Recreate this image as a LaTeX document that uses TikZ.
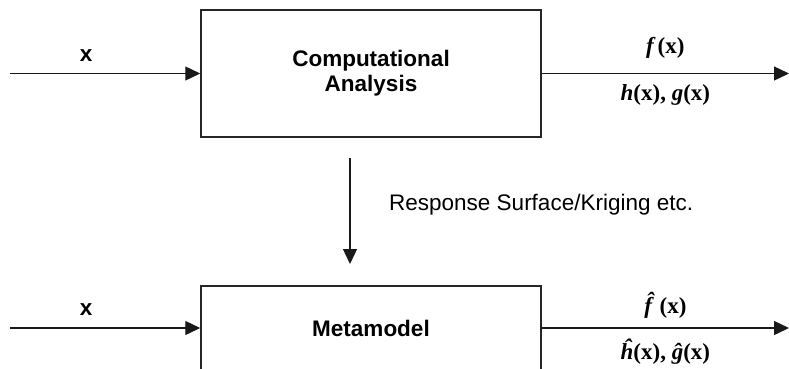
\documentclass[tikz,border=0pt]{standalone}
\usepackage{fontspec}
\setmainfont{Liberation Sans}
\newfontfamily\timesfont{Liberation Serif}
\usetikzlibrary{arrows.meta,positioning}

\begin{document}
\begin{tikzpicture}[x=1pt,y=-1pt,
		block/.style={draw=black!85, line width=1.5pt, minimum width=340pt, inner sep=0pt, align=center, font=\fontsize{22.5}{25}\selectfont\bfseries},
		flow/.style={line width=1.3pt, draw=black!90, -{Triangle[length=15pt,width=14pt]}},
		lbl/.style={inner sep=0pt, font=\fontsize{22.5}{26}\selectfont},
		mlbl/.style={inner sep=0pt, font=\fontsize{23}{26}\selectfont\timesfont\bfseries}]
	\clip (0,0) rectangle (789,368);
	% blocks
	\node (comp) [block, minimum height=127pt] at (371,73.5) {Computational\\Analysis};
	\node (meta) [block, minimum height=84pt] at (371,328) {Metamodel};
	% free ends of the connectors
	\coordinate (compin) at (10,73.5);
	\coordinate (compout) at (789,73.5);
	\coordinate (metain) at (10,328);
	\coordinate (metaout) at (789,328);
	\coordinate (fittop) at (350,158);
	\coordinate (fitbot) at (350,264);
	% top row
	\draw [flow] (compin) -- node [lbl, pos=0.4, yshift=18pt] {\textbf{x}} (comp);
	\draw [flow] (comp) -- node [mlbl, yshift=26pt] {{\itshape f}\,(x)} node [mlbl, yshift=-21pt] {{\itshape h}(x), {\itshape g}(x)} (compout);
	% fitting step
	\draw [flow] (fittop) -- (fitbot);
	\node (fitlabel) [lbl, anchor=west] at (389,205) {Response Surface/Kriging etc.};
	% bottom row
	\draw [flow] (metain) -- node [lbl, pos=0.4, yshift=18pt] {\textbf{x}} (meta);
	\draw [flow] (meta) -- node [mlbl, yshift=23pt] {{\itshape\^{f}}\,\,(x)} node [mlbl, yshift=-24pt] {{\itshape\^{h}}(x), {\itshape\^{g}}(x)} (metaout);
\end{tikzpicture}
\end{document}
